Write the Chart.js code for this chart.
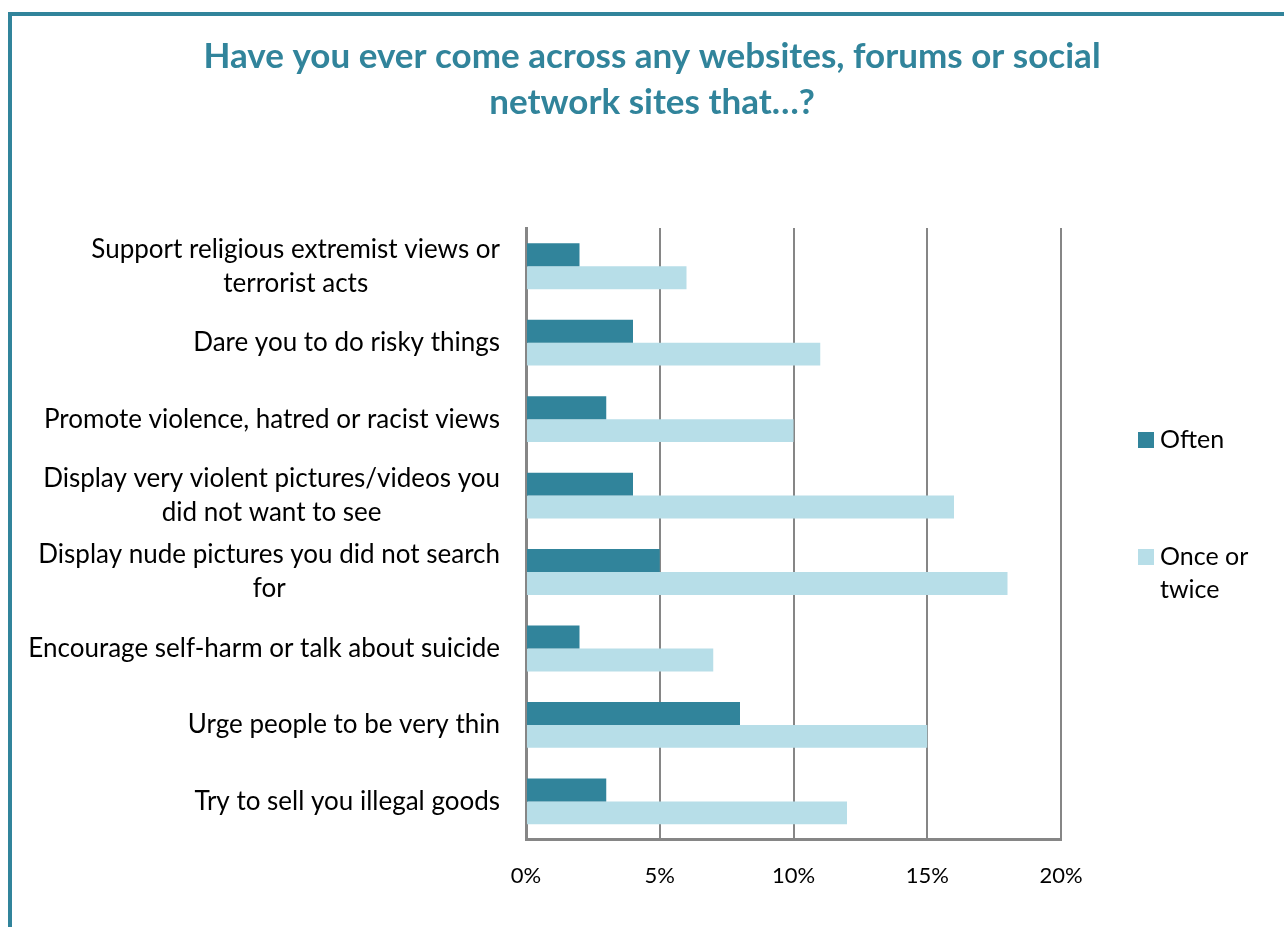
<!DOCTYPE html>
<html lang="en">
<head>
    <meta charset="UTF-8">
    <title>Websites, forums or social network sites</title>
    <script src="https://cdn.jsdelivr.net/npm/chart.js"></script>
    <style>
        html, body { margin: 0; padding: 0; background: #fff; overflow: hidden; }
        .frame {
            position: absolute;
            left: 8px;
            top: 12px;
            width: 1280px;
            height: 911px;
            border-left: 4px solid #31849B;
            border-top: 4px solid #31849B;
        }
        canvas { display: block; }
    </style>
</head>
<body>
    <div class="frame">
        <canvas id="grafico" width="1280" height="911"></canvas>
    </div>

    <script>
        var titulo = ['Have you ever come across any websites, forums or social', 'network sites that\u2026?'];
        // categories, top to bottom
        var categorias = [
            ['Support religious extremist views or', 'terrorist acts'],
            ['Dare you to do risky things'],
            ['Promote violence, hatred or racist views'],
            ['Display very violent pictures/videos you', 'did not want to see'],
            ['Display nude pictures you did not search', 'for'],
            ['Encourage self-harm or talk about suicide'],
            ['Urge people to be very thin'],
            ['Try to sell you illegal goods']
        ];
        var often = [2, 4, 3, 4, 5, 2, 8, 3];
        var onceOrTwice = [6, 11, 10, 16, 18, 7, 15, 12];
        var xTicks = [0, 5, 10, 15, 20];

        var FONT = 'Lato, "Open Sans", sans-serif';

        // title centred over the whole canvas (not just the plot)
        var cabecalho = {
            id: 'cabecalho',
            afterDraw: function (chart) {
                var ctx = chart.ctx;
                ctx.save();
                ctx.font = 'bold 35px ' + FONT;
                ctx.fillStyle = '#31849B';
                ctx.textAlign = 'center';
                ctx.textBaseline = 'middle';
                titulo.forEach(function (l, k) {
                    ctx.fillText(l, chart.width / 2, 41 + k * 46);
                });
                ctx.restore();
            }
        };

        // category labels: right edge fixed, extra lines centred under the first
        var rotulos = {
            id: 'rotulos',
            afterDraw: function (chart) {
                var ctx = chart.ctx;
                var y = chart.scales.y;
                var right = chart.chartArea.left - 26;
                ctx.save();
                ctx.font = '26px ' + FONT;
                ctx.fillStyle = '#000';
                ctx.textAlign = 'center';
                ctx.textBaseline = 'middle';
                chart.data.labels.forEach(function (linhas, i) {
                    var w = Math.max.apply(null, linhas.map(function (l) { return ctx.measureText(l).width; }));
                    var cy = y.getPixelForValue(i);
                    var lh = 34;
                    var y0 = cy - (linhas.length - 1) * lh / 2;
                    linhas.forEach(function (l, k) {
                        ctx.fillText(l, right - w / 2, y0 + k * lh);
                    });
                });
                ctx.restore();
            }
        };

        // legend on the right, text wrapped
        var legenda = {
            id: 'legenda',
            afterDraw: function (chart) {
                var ctx = chart.ctx;
                var posY = [424, 541];
                ctx.save();
                ctx.font = '25px ' + FONT;
                ctx.textBaseline = 'middle';
                chart.data.datasets.forEach(function (ds, i) {
                    var x = 1126;
                    var yy = posY[i];
                    ctx.fillStyle = ds.backgroundColor;
                    ctx.fillRect(x, yy - 8, 16, 16);
                    ctx.fillStyle = '#000';
                    var palavras = ds.label.split(' ');
                    var linhas = [], atual = '';
                    palavras.forEach(function (p) {
                        var t = atual ? atual + ' ' + p : p;
                        if (ctx.measureText(t).width > 105 && atual) { linhas.push(atual); atual = p; }
                        else atual = t;
                    });
                    linhas.push(atual);
                    linhas.forEach(function (l, k) {
                        ctx.fillText(l, x + 22, yy + k * 33);
                    });
                });
                ctx.restore();
            }
        };

        var ctx = document.getElementById('grafico').getContext('2d');
        var grafico = new Chart(ctx, {
            type: 'bar',
            data: {
                labels: categorias,
                datasets: [{
                    label: 'Often',
                    data: often,
                    backgroundColor: '#31849B'
                }, {
                    label: 'Once or twice',
                    data: onceOrTwice,
                    backgroundColor: '#B7DEE8'
                }]
            },
            options: {
                indexAxis: 'y',
                responsive: false,
                animation: false,
                categoryPercentage: 0.6,
                barPercentage: 1.0,
                layout: { padding: { top: 212, right: 231, bottom: 15 } },
                plugins: {
                    legend: { display: false },
                    tooltip: { enabled: false },
                    title: { display: false }
                },
                scales: {
                    x: {
                        min: 0,
                        max: 20,
                        afterBuildTicks: function (s) { s.ticks = xTicks.map(function (v) { return { value: v }; }); },
                        grid: { color: '#868686', lineWidth: 2, drawTicks: false },
                        border: { display: true, color: '#868686', width: 3 },
                        ticks: {
                            padding: 23,
                            color: '#000',
                            font: { family: FONT, size: 22 },
                            callback: function (v) { return v + '%'; }
                        }
                    },
                    y: {
                        afterFit: function (s) { s.width = 514; },
                        grid: { display: false, drawTicks: false },
                        border: { display: true, color: '#868686', width: 3 },
                        ticks: { display: false }
                    }
                }
            },
            plugins: [cabecalho, rotulos, legenda]
        });
    </script>
</body>
</html>
